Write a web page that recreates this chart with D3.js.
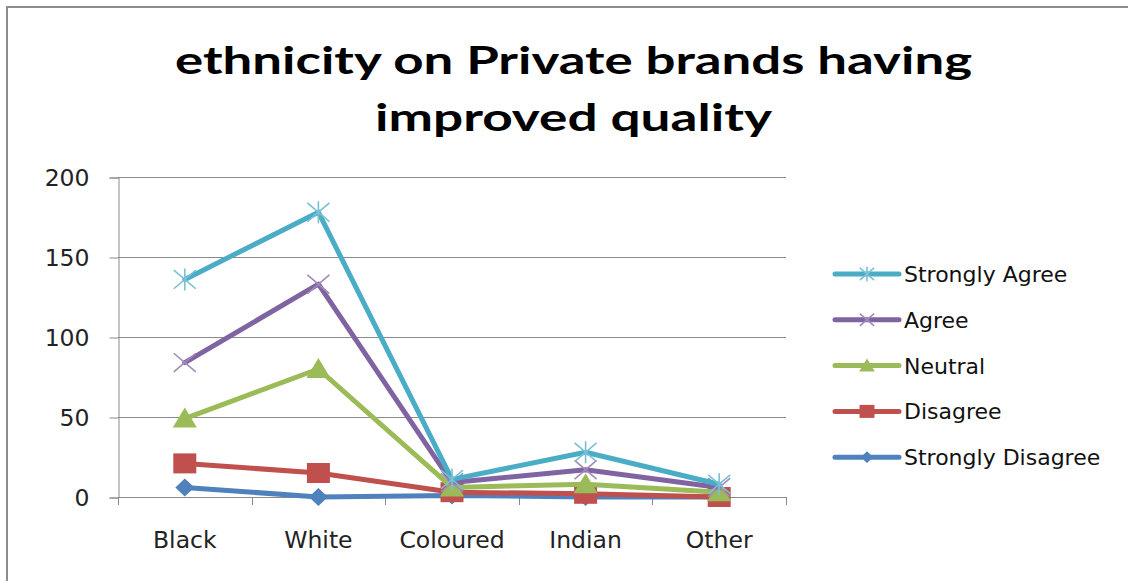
<!DOCTYPE html>
<html>
<head>
<meta charset="utf-8">
<script src="https://cdn.jsdelivr.net/npm/d3@7"></script>
<style>
  html, body { margin: 0; padding: 0; background: #ffffff; }
  svg { display: block; }
</style>
</head>
<body>
<svg id="chart" width="1132" height="581"></svg>
<script>
// Ethnic groups along the x axis
const categories = ["Black", "White", "Coloured", "Indian", "Other"];

// Number of respondents per answer, one array per series
const stronglyDisagree = [6, 0, 1, 0, 0];
const disagree         = [21, 15, 3, 2, 0];
const neutral          = [49, 80, 6, 8, 3];
const agree            = [84, 133, 9, 17, 6];
const stronglyAgree    = [136, 178, 11, 28, 8];

const yTicks = [0, 50, 100, 150, 200];

const titleLines = ["ethnicity on Private brands having", "improved quality"];

// Series in drawing order (first drawn sits underneath)
const series = [
  { name: "Strongly Disagree", values: stronglyDisagree, color: "#4F81BD", marker: "diamond" },
  { name: "Disagree",          values: disagree,         color: "#C0504D", marker: "square" },
  { name: "Neutral",           values: neutral,          color: "#9BBB59", marker: "triangle" },
  { name: "Agree",             values: agree,            color: "#8064A2", marker: "x" },
  { name: "Strongly Agree",    values: stronglyAgree,    color: "#4BACC6", marker: "star" }
];

const svg = d3.select("#chart");

// outer frame
svg.append("path")
  .attr("d", "M7,581 L7,7 L1128,7")
  .attr("fill", "none")
  .attr("stroke", "#8c8c8c")
  .attr("stroke-width", 2);

// title
const titleG = svg.append("g")
  .attr("font-family", "Lato, 'Open Sans', sans-serif")
  .attr("font-weight", "bold")
  .attr("font-size", 38)
  .attr("fill", "#000");
titleG.append("text")
  .attr("x", 175).attr("y", 74)
  .attr("textLength", 797).attr("lengthAdjust", "spacingAndGlyphs")
  .text(titleLines[0]);
titleG.append("text")
  .attr("x", 375).attr("y", 131)
  .attr("textLength", 397).attr("lengthAdjust", "spacingAndGlyphs")
  .text(titleLines[1]);

// plot area
const plot = { left: 118, right: 786, top: 177, bottom: 497 };

const x = d3.scaleBand()
  .domain(categories)
  .range([plot.left, plot.right]);

const y = d3.scaleLinear()
  .domain([0, 200])
  .range([plot.bottom, plot.top]);

const axisColor = "#8a8a8a";

// horizontal gridlines
svg.append("g")
  .selectAll("line")
  .data(yTicks.filter(d => d > 0))
  .join("line")
  .attr("x1", plot.left).attr("x2", plot.right)
  .attr("y1", d => Math.round(y(d)) + 0.5).attr("y2", d => Math.round(y(d)) + 0.5)
  .attr("stroke", axisColor)
  .attr("stroke-width", 1);

// y axis
const yAxis = svg.append("g")
  .attr("transform", `translate(${plot.left + 0.5},0.5)`)
  .call(d3.axisLeft(y).tickValues(yTicks).tickSize(9).tickPadding(20));
yAxis.select(".domain").attr("stroke", axisColor);
yAxis.selectAll(".tick line").attr("stroke", axisColor);
yAxis.selectAll(".tick text")
  .attr("font-family", "'DejaVu Sans', Verdana, sans-serif")
  .attr("font-size", 23.5)
  .attr("fill", "#222")
  .attr("dy", "0.36em");

// x axis: ticks sit on the band boundaries
const bandEdges = categories.map(c => x(c)).concat([x.range()[1]]);
const xAxisG = svg.append("g");
xAxisG.append("line")
  .attr("x1", plot.left).attr("x2", plot.right)
  .attr("y1", plot.bottom + 0.5).attr("y2", plot.bottom + 0.5)
  .attr("stroke", axisColor);
xAxisG.selectAll("line.tk")
  .data(bandEdges)
  .join("line")
  .attr("class", "tk")
  .attr("x1", d => Math.round(d) + 0.5).attr("x2", d => Math.round(d) + 0.5)
  .attr("y1", plot.bottom).attr("y2", plot.bottom + 8)
  .attr("stroke", axisColor);
xAxisG.selectAll("text")
  .data(categories)
  .join("text")
  .attr("x", d => x(d) + x.bandwidth() / 2)
  .attr("y", 548)
  .attr("text-anchor", "middle")
  .attr("font-family", "'DejaVu Sans', Verdana, sans-serif")
  .attr("font-size", 23.5)
  .attr("fill", "#222")
  .text(d => d);

const cx = c => x(c) + x.bandwidth() / 2;

// marker drawing helper
function drawMarker(g, type, color, px, py, s) {
  if (type === "diamond") {
    const w = 9.5 * s, h = 9 * s;
    g.append("path")
      .attr("d", `M${px},${py - h} L${px + w},${py} L${px},${py + h} L${px - w},${py} Z`)
      .attr("fill", color);
  } else if (type === "square") {
    const w = 11.5 * s, h = 10 * s;
    g.append("rect")
      .attr("x", px - w).attr("y", py - h)
      .attr("width", 2 * w).attr("height", 2 * h)
      .attr("fill", color);
  } else if (type === "triangle") {
    const w = 12 * s, h = 20 * s;
    g.append("path")
      .attr("d", `M${px},${py - h * 0.55} L${px + w},${py + h * 0.45} L${px - w},${py + h * 0.45} Z`)
      .attr("fill", color);
  } else if (type === "x") {
    const r = 11 * s;
    g.append("path")
      .attr("d", `M${px - r},${py - r * 0.85} L${px + r},${py + r * 0.85} M${px - r},${py + r * 0.85} L${px + r},${py - r * 0.85}`)
      .attr("stroke", color).attr("stroke-width", 1.6).attr("fill", "none");
  } else if (type === "star") {
    const r = 11 * s;
    g.append("path")
      .attr("d", `M${px - r},${py - r * 0.85} L${px + r},${py + r * 0.85} M${px - r},${py + r * 0.85} L${px + r},${py - r * 0.85} M${px},${py - r} L${px},${py + r}`)
      .attr("stroke", color).attr("stroke-width", 1.6).attr("fill", "none");
  }
}

const line = d3.line()
  .x(d => cx(d.cat))
  .y(d => y(d.v));

// each series: line first, then its markers
series.forEach(s => {
  const pts = categories.map((c, i) => ({ cat: c, v: s.values[i] }));
  const g = svg.append("g");
  g.append("path")
    .datum(pts)
    .attr("d", line)
    .attr("fill", "none")
    .attr("stroke", s.color)
    .attr("stroke-width", 5)
    .attr("stroke-linejoin", "round")
    .attr("stroke-linecap", "round");
  const light = d3.interpolateRgb(s.color, "#ffffff")(0.25);
  pts.forEach(p => drawMarker(g, s.marker, (s.marker === "x" || s.marker === "star") ? light : s.color, cx(p.cat), y(p.v), 1));
});

// legend, listed from the top series downward
const legendRows = series.slice().reverse();
const legend = svg.append("g");
legendRows.forEach((s, i) => {
  const ly = 274 + i * 45.8;
  const row = legend.append("g");
  row.append("line")
    .attr("x1", 835).attr("x2", 899)
    .attr("y1", ly).attr("y2", ly)
    .attr("stroke", s.color)
    .attr("stroke-width", 5)
    .attr("stroke-linecap", "round");
  const light = d3.interpolateRgb(s.color, "#ffffff")(0.25);
  drawMarker(row, s.marker, (s.marker === "x" || s.marker === "star") ? light : s.color, 867, ly, 0.65);
  row.append("text")
    .attr("x", 904).attr("y", ly + 8)
    .attr("font-family", "'DejaVu Sans', Verdana, sans-serif")
    .attr("font-size", 22)
    .attr("fill", "#111")
    .text(s.name);
});
</script>
</body>
</html>
